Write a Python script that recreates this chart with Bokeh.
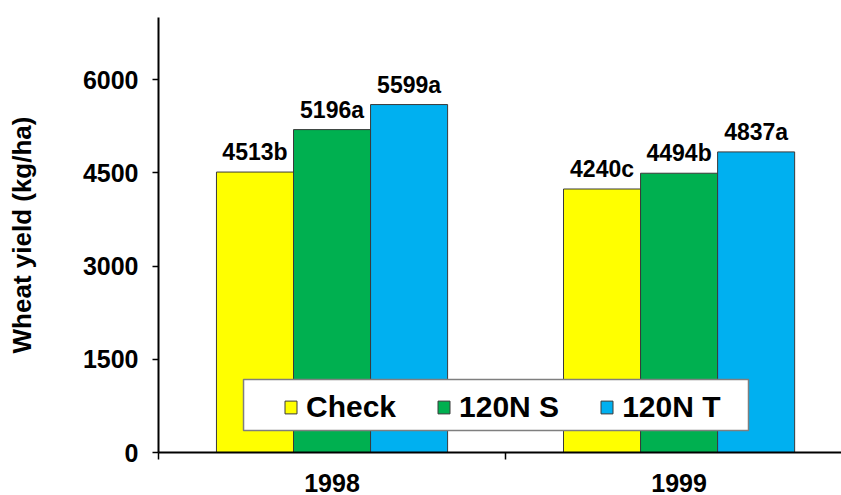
from bokeh.plotting import figure
from bokeh.models import (ColumnDataSource, Range1d, FixedTicker, Legend, LegendItem,
                          BoxAnnotation)
from bokeh.embed import file_html
from bokeh.resources import INLINE
from bokeh.core.properties import value

# ---- data ----
years = ["1998", "1999"]
series = ["Check", "120N S", "120N T"]
check = [4513, 4240]
n120_s = [5196, 4494]
n120_t = [5599, 4837]
letters_check = ["b", "c"]
letters_s = ["a", "b"]
letters_t = ["a", "a"]
colors = ["#FFFF00", "#00B050", "#00B0F0"]
y_ticks = [0, 1500, 3000, 4500, 6000]
y_max = 7000

FONT = "Liberation Sans"
BAR_W = 0.222

p = figure(width=841, height=495, output_backend="svg", toolbar_location=None,
           x_range=Range1d(0, 1.968), y_range=Range1d(0, y_max),
           min_border_left=158, min_border_right=0, min_border_top=17, min_border_bottom=43)
p.outline_line_color = None
p.xgrid.visible = False
p.ygrid.visible = False
p.background_fill_color = "white"

renderers = []
all_vals = [check, n120_s, n120_t]
all_lets = [letters_check, letters_s, letters_t]
for j, (name, vals, lets, col) in enumerate(zip(series, all_vals, all_lets, colors)):
    xs = [i + 0.5 + (j - 1) * BAR_W for i in range(len(years))]
    src = ColumnDataSource(dict(x=xs, top=vals,
                                label=[f"{v}{l}" for v, l in zip(vals, lets)]))
    r = p.vbar(x="x", top="top", bottom=0, width=BAR_W, source=src,
               fill_color=col, line_color="#3a3a3a", line_width=1)
    p.text(x="x", y="top", text="label", source=src, text_align="center",
           text_baseline="alphabetic", y_offset=-20, text_font=value(FONT),
           text_font_style="bold", text_font_size="23px", text_color="black")
    renderers.append(r)

# y axis
p.yaxis.ticker = FixedTicker(ticks=y_ticks)
p.yaxis.axis_line_width = 2
p.yaxis.axis_line_color = "black"
p.yaxis.major_tick_out = 6
p.yaxis.major_tick_in = 0
p.yaxis.major_tick_line_width = 1.5
p.yaxis.major_tick_line_color = "black"
p.yaxis.minor_tick_out = 0
p.yaxis.minor_tick_in = 0
p.yaxis.major_label_standoff = 14
p.yaxis.major_label_text_font = FONT
p.yaxis.major_label_text_font_style = "bold"
p.yaxis.major_label_text_font_size = "25px"
p.yaxis.major_label_text_color = "black"
p.yaxis.axis_label = "Wheat yield (kg/ha)"
p.yaxis.axis_label_standoff = 43
p.yaxis.axis_label_text_font = FONT
p.yaxis.axis_label_text_font_style = "bold"
p.yaxis.axis_label_text_font_size = "26px"
p.yaxis.axis_label_text_color = "black"

# x axis
centers = [i + 0.5 for i in range(len(years))]
p.xaxis.ticker = FixedTicker(ticks=centers, minor_ticks=list(range(len(years) + 1)))
p.xaxis.major_label_overrides = {c: y for c, y in zip(centers, years)}
p.xaxis.axis_line_width = 2
p.xaxis.axis_line_color = "black"
p.xaxis.major_tick_out = 0
p.xaxis.major_tick_in = 0
p.xaxis.minor_tick_out = 7
p.xaxis.minor_tick_in = 0
p.xaxis.minor_tick_line_width = 1.5
p.xaxis.minor_tick_line_color = "black"
p.xaxis.major_label_standoff = 14
p.xaxis.major_label_text_font = FONT
p.xaxis.major_label_text_font_style = "bold"
p.xaxis.major_label_text_font_size = "25px"
p.xaxis.major_label_text_color = "black"

# legend frame
p.add_layout(BoxAnnotation(left=0.245, right=1.700, bottom=354, top=1175,
                           fill_color="white", fill_alpha=1.0,
                           line_color="#7f7f7f", line_width=1.5, line_alpha=1.0))

legend = Legend(items=[LegendItem(label=s, renderers=[r]) for s, r in zip(series, renderers)],
                orientation="horizontal", location=(125, 28), glyph_width=15, glyph_height=16,
                label_standoff=8, spacing=40, padding=9, margin=0,
                label_text_font=FONT, label_text_font_style="bold",
                label_text_font_size="30px", label_text_color="black",
                background_fill_alpha=0, border_line_color=None)
p.add_layout(legend)

open("out.html", "w").write(file_html(p, INLINE))
